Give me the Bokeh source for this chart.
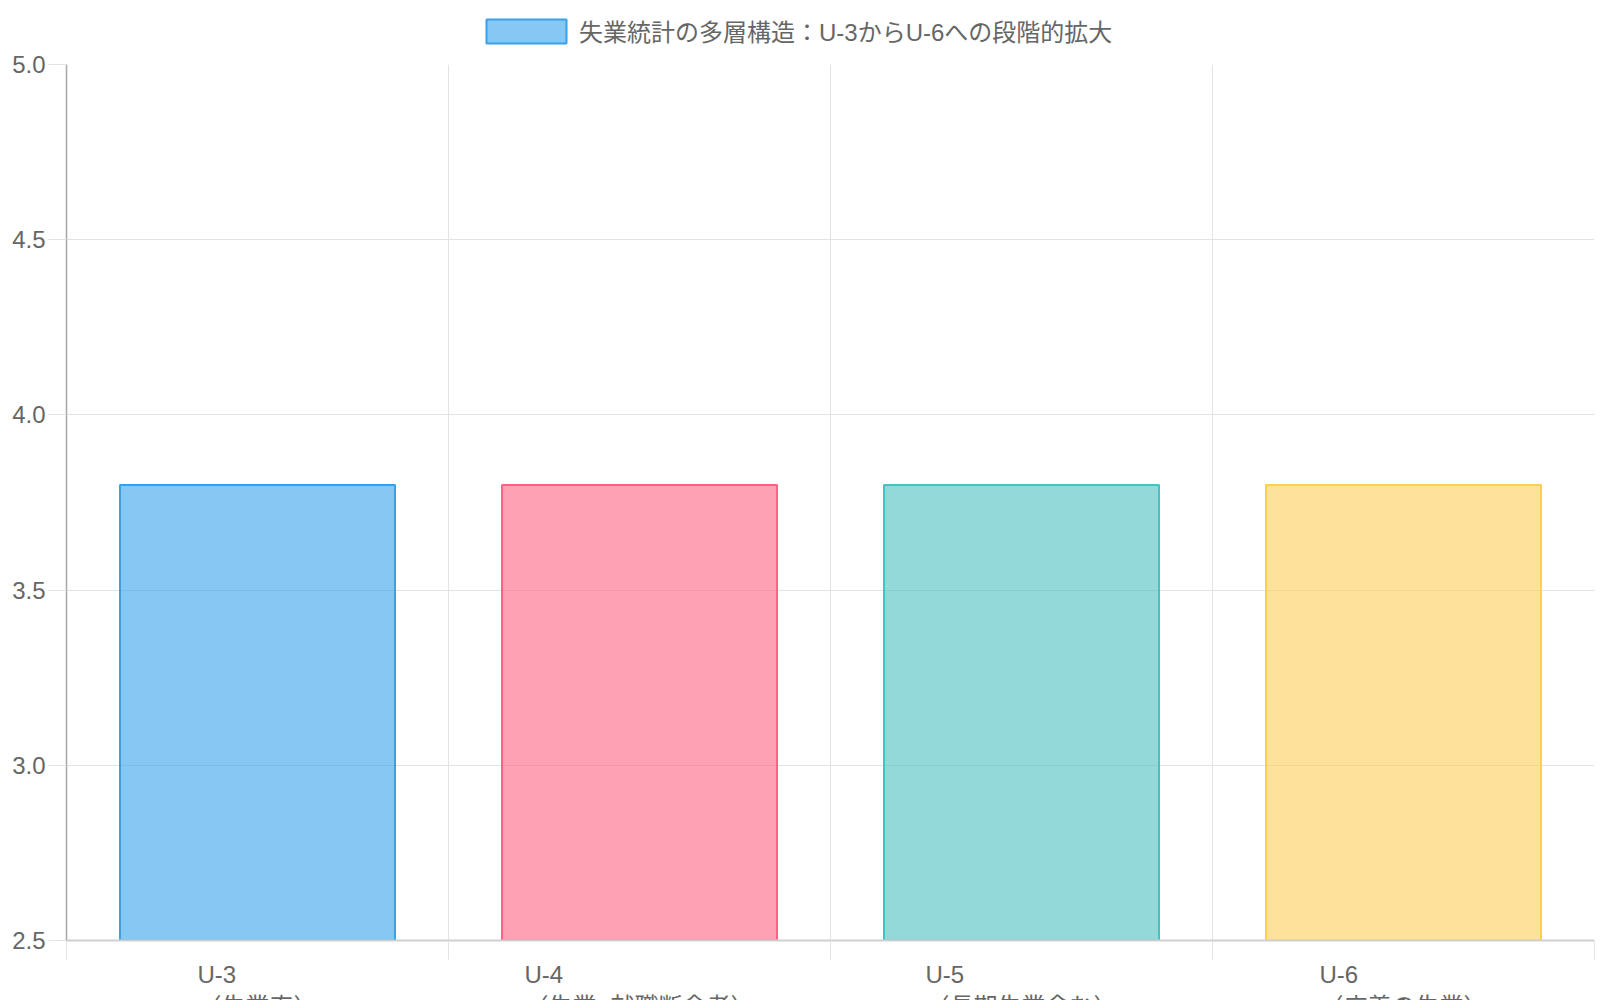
from bokeh.plotting import figure
from bokeh.layouts import column
from bokeh.models import (ColumnDataSource, Range1d, FixedTicker, Legend, LegendItem,
                          PrintfTickFormatter)
from bokeh.core.properties import value
from bokeh.embed import file_html
from bokeh.resources import INLINE

# ---- data ----
codes = ["U-3", "U-4", "U-5", "U-6"]
descriptions = ["（失業率）", "（失業+就職断念者）", "（長期失業含む）", "（広義の失業）"]
values = [3.8, 3.8, 3.8, 3.8]
fill_colors = ["rgba(54,162,235,0.6)", "rgba(255,99,132,0.6)", "rgba(75,192,192,0.6)", "rgba(255,206,86,0.6)"]
line_colors = ["rgb(54,162,235)", "rgb(255,99,132)", "rgb(75,192,192)", "rgb(255,206,86)"]
series_label = "失業統計の多層構造：U-3からU-6への段階的拡大"
y_ticks = [2.5, 3.0, 3.5, 4.0, 4.5, 5.0]

FONT = "'Liberation Sans', 'Noto Sans CJK JP', sans-serif"
FS = 24
TXT = "#666666"
GRID = "#e3e3e3"

W = 1600
HEAD_H, MAIN_H, FOOT_H = 48, 912, 40
BL, BR, BT, BB = 66, 6, 16, 20

n = len(codes)
xs = [i + 0.5 for i in range(n)]
src = ColumnDataSource(dict(x=xs, top=values, fill=fill_colors, line=line_colors))
x_range = Range1d(0, n)

# ---------------- main chart ----------------
p = figure(width=W, height=MAIN_H, output_backend="svg", toolbar_location=None,
           x_range=x_range, y_range=Range1d(y_ticks[0], y_ticks[-1]),
           min_border_left=BL, min_border_right=BR, min_border_bottom=BB, min_border_top=BT)
p.outline_line_color = None

p.vbar(x="x", top="top", bottom=0, width=0.72, source=src,
       fill_color="fill", line_color="line", line_width=2)

p.yaxis.ticker = FixedTicker(ticks=y_ticks)
p.yaxis.formatter = PrintfTickFormatter(format="%.1f")
p.yaxis.major_label_text_font_size = f"{FS}px"
p.yaxis.major_label_text_color = TXT
p.yaxis.major_label_text_font = FONT
p.yaxis.major_tick_out = 18
p.yaxis.major_tick_in = 0
p.yaxis.major_tick_line_color = GRID
p.yaxis.minor_tick_line_color = None
p.yaxis.axis_line_color = "#a8a8a8"
p.yaxis.axis_line_width = 1.5
p.yaxis.major_label_standoff = 3

p.xaxis.ticker = FixedTicker(ticks=list(range(n + 1)))
p.xaxis.major_label_overrides = {i: "" for i in range(n + 1)}
p.xaxis.major_label_text_font_size = "0px"
p.xaxis.major_label_standoff = 0
p.xaxis.major_tick_out = 19
p.xaxis.major_tick_in = 0
p.xaxis.major_tick_line_color = GRID
p.xaxis.minor_tick_line_color = None
p.xaxis.axis_line_color = "#d0d0d0"
p.xaxis.axis_line_width = 2

p.xgrid.ticker = FixedTicker(ticks=list(range(n + 1)))
p.xgrid.grid_line_color = GRID
p.ygrid.ticker = FixedTicker(ticks=y_ticks)
p.ygrid.grid_line_color = GRID

# ---------------- legend header ----------------
head = figure(width=W, height=HEAD_H, output_backend="svg", toolbar_location=None,
              x_range=Range1d(0, n), y_range=Range1d(0, 1),
              min_border_left=BL, min_border_right=BR, min_border_top=0, min_border_bottom=0,
              x_axis_type=None, y_axis_type=None)
head.outline_line_color = None
head.grid.visible = False
# hidden copy of the bars: it only supplies the first series' swatch to the legend
hr = head.vbar(x="x", top="top", bottom=0, width=0.72, source=src,
               fill_color="fill", line_color="line", line_width=2, visible=False)
legend = Legend(items=[LegendItem(label=series_label, renderers=[hr], index=0)],
                orientation="horizontal", location=(410, 0), click_policy="none",
                glyph_width=100, glyph_height=30, label_standoff=3, label_height=24,
                label_text_font_size=f"{FS}px", label_text_color=TXT,
                label_text_font=FONT, border_line_color=None,
                background_fill_alpha=0, padding=0, margin=0)
head.add_layout(legend, "center")

# ---------------- category labels footer ----------------
def text_width(s):
    # full-width characters take 1em, others about 0.58em
    return sum(FS if ord(ch) > 0x2E80 else 0.58 * FS for ch in s)


lab_src = ColumnDataSource(dict(
    x=xs,
    text=[c + "\n" + d for c, d in zip(codes, descriptions)],
    xoff=[-text_width(d) / 2 for d in descriptions],
))
foot = figure(width=W, height=FOOT_H, output_backend="svg", toolbar_location=None,
              x_range=x_range, y_range=Range1d(0, 1),
              min_border_left=BL, min_border_right=BR, min_border_top=0, min_border_bottom=0,
              x_axis_type=None, y_axis_type=None)
foot.outline_line_color = None
foot.grid.visible = False
foot.text(x="x", y=1, text="text", x_offset="xoff", y_offset=0, source=lab_src,
          text_align="left", text_baseline="top", text_font=value(FONT),
          text_font_size=f"{FS}px", text_color=TXT, text_line_height=1.2)

layout = column(head, p, foot, spacing=0)
open("out.html", "w").write(file_html(layout, INLINE))
